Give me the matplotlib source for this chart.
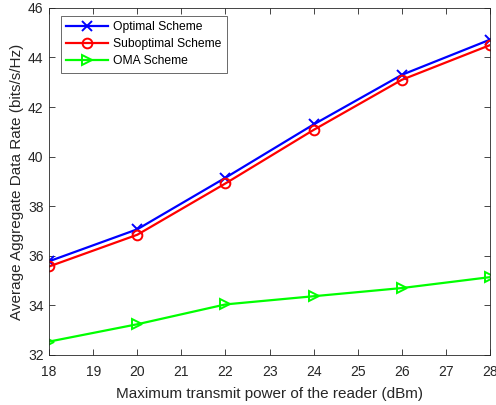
import matplotlib
matplotlib.use("Agg")
import matplotlib.pyplot as plt

plt.rcParams['font.family'] = ['Liberation Sans', 'DejaVu Sans']

# data
power_dbm = [18, 20, 22, 24, 26, 28]
optimal = [35.78, 37.07, 39.15, 41.3, 43.3, 44.72]
suboptimal = [35.57, 36.85, 38.92, 41.08, 43.1, 44.5]
oma = [32.54, 33.24, 34.04, 34.37, 34.7, 35.14]

fig = plt.figure(figsize=(4.96, 4.05), dpi=100)
ax = fig.add_axes([0.099, 0.1235, 0.889, 0.857])

ax.plot(power_dbm, optimal, color='#0000ff', marker='x', markersize=7,
        markeredgewidth=1.4, linewidth=1.6, label='Optimal Scheme')
ax.plot(power_dbm, suboptimal, color='#ff0000', marker='o', markersize=7,
        markerfacecolor='none', markeredgewidth=1.4, linewidth=1.6,
        label='Suboptimal Scheme')
ax.plot(power_dbm, oma, color='#00ff00', marker='>', markersize=7,
        markerfacecolor='none', markeredgewidth=1.4, linewidth=1.6,
        label='OMA Scheme')

ax.set_xlim(18, 28)
ax.set_ylim(32, 46)
ax.set_xticks(range(18, 29))
ax.set_yticks(range(32, 47, 2))
ax.tick_params(direction='in', top=True, right=True, labelsize=10,
               colors='#262626', length=4.5, width=0.6)
ax.tick_params(axis='x', pad=7)
ax.tick_params(axis='y', pad=4)
for s in ax.spines.values():
    s.set_color('#262626')
    s.set_linewidth(0.6)

ax.set_xlabel('Maximum transmit power of the reader (dBm)', fontsize=11,
              color='#262626', labelpad=6)
ax.set_ylabel('Average Aggregate Data Rate (bits/s/Hz)', fontsize=11,
              color='#262626', labelpad=3)

leg = ax.legend(loc='upper left', bbox_to_anchor=(0.027, 0.978),
                fontsize=8.7, frameon=True, fancybox=False,
                edgecolor='#262626', handlelength=3.4, borderaxespad=0,
                labelspacing=0.42, handletextpad=0.45, borderpad=0.45)
leg.get_frame().set_linewidth(0.6)

fig.savefig('out.png', dpi=100)
